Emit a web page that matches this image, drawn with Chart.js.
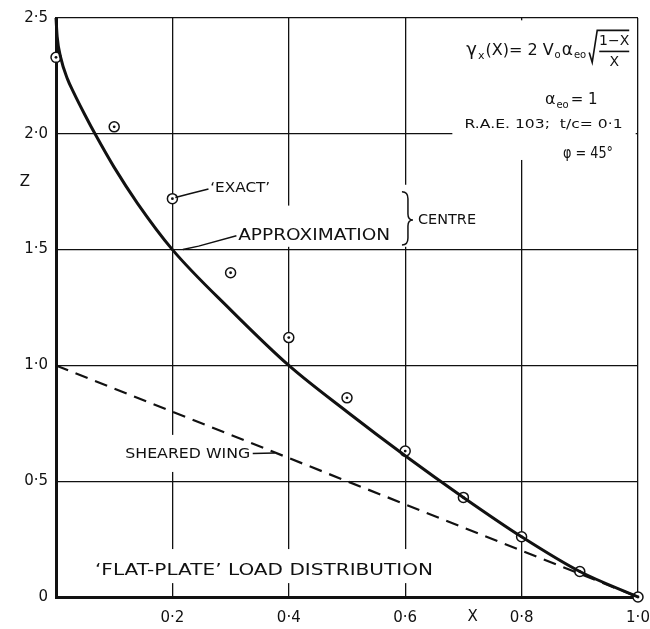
<!DOCTYPE html>
<html>
<head>
<meta charset="utf-8">
<script src="https://cdn.jsdelivr.net/npm/chart.js@4.4.1/dist/chart.umd.min.js"></script>
<style>
  html, body { margin: 0; padding: 0; background: #fff; }
  canvas { display: block; }
</style>
</head>
<body>
<canvas id="myChart" width="650" height="629"></canvas>
<script>
// approximation curve (solid)
const approxX = [0, 0.002, 0.008, 0.02, 0.03, 0.05, 0.067, 0.1, 0.14, 0.2, 0.3, 0.4, 0.5, 0.6, 0.7, 0.8, 0.9, 1.0];
const approxZ = [2.5, 2.42, 2.33, 2.235, 2.18, 2.08, 2.0, 1.855, 1.70, 1.5, 1.24, 1.0, 0.8, 0.61, 0.43, 0.26, 0.11, 0];
// 'exact' points (circles)
const exactX = [0, 0.1, 0.2, 0.3, 0.4, 0.5, 0.6, 0.7, 0.8, 0.9, 1.0];
const exactZ = [2.33, 2.03, 1.72, 1.40, 1.12, 0.86, 0.63, 0.43, 0.26, 0.11, 0];
// sheared wing (dashed)
const shearedX = [0, 1];
const shearedZ = [1, 0];

const xTicks = [0, 0.2, 0.4, 0.6, 0.8, 1.0];
const xTickLabels = ['', '0·2', '0·4', '0·6', '0·8', '1·0'];
const zTicks = [0, 0.5, 1.0, 1.5, 2.0, 2.5];
const zTickLabels = ['0', '0·5', '1·0', '1·5', '2·0', '2·5'];

const FONT = '"DejaVu Sans", sans-serif';

const pts = (xs, ys) => xs.map((x, i) => ({ x: x, y: ys[i] }));

// text drawn at a given left edge / middle, stretched to a width
function drawText(ctx, s, x, y, size, width) {
  ctx.font = size + 'px ' + FONT;
  const w = ctx.measureText(s).width;
  const k = width ? width / w : 1;
  ctx.save();
  ctx.translate(x, y);
  ctx.scale(k, 1);
  ctx.textBaseline = 'middle';
  ctx.textAlign = 'left';
  ctx.fillStyle = '#111';
  ctx.fillText(s, 0, 0);
  ctx.restore();
}

// labels, in data units (left edge, middle)
const notes = [
  { text: '‘EXACT’', x: 0.265, y: 1.766, size: 14, width: 60 },
  { text: 'APPROXIMATION', x: 0.313, y: 1.56, size: 15, width: 152 },
  { text: 'CENTRE', x: 0.622, y: 1.628, size: 14, width: 58 },
  { text: 'SHEARED WING', x: 0.119, y: 0.617, size: 14, width: 125 },
  { text: '‘FLAT-PLATE’ LOAD DISTRIBUTION', x: 0.067, y: 0.112, size: 15, width: 338 },
  { text: 'R.A.E. 103;  t/c= 0·1', x: 0.702, y: 2.04, size: 13, width: 158 },
  { text: 'φ = 45°', x: 0.871, y: 1.913, size: 15, width: 50 }
];

// white patches where the grid is broken by lettering
const gaps = [
  { x1: 0.681, x2: 0.996, y1: 2.49, y2: 1.887 },
  { x1: 0.31, x2: 0.59, y1: 1.69, y2: 1.512 },
  { x1: 0.59, x2: 0.73, y1: 1.78, y2: 1.512 },
  { x1: 0.11, x2: 0.34, y1: 0.70, y2: 0.54 },
  { x1: 0.06, x2: 0.66, y1: 0.207, y2: 0.06 }
];

// leader lines
const leaders = [
  [[0.205, 1.725], [0.228, 1.74], [0.262, 1.762]],
  [[0.218, 1.5], [0.245, 1.515], [0.31, 1.56]],
  [[0.338, 0.62], [0.376, 0.622]]
];

const notesPlugin = {
  id: 'notes',
  beforeDatasetsDraw(chart) {
    const { ctx, scales: { x, y } } = chart;
    ctx.save();
    ctx.fillStyle = '#fff';
    gaps.forEach(g => {
      const px1 = x.getPixelForValue(g.x1), px2 = x.getPixelForValue(g.x2);
      const py1 = y.getPixelForValue(g.y1), py2 = y.getPixelForValue(g.y2);
      ctx.fillRect(px1, py1, px2 - px1, py2 - py1);
    });
    ctx.restore();
  },
  afterDatasetsDraw(chart) {
    const { ctx, scales: { x, y } } = chart;
    // dots in the middle of the circles
    const meta = chart.getDatasetMeta(2);
    ctx.save();
    ctx.fillStyle = '#111';
    meta.data.forEach(p => {
      ctx.beginPath();
      ctx.arc(p.x, p.y, 1.4, 0, Math.PI * 2);
      ctx.fill();
    });

    notes.forEach(n => drawText(ctx, n.text, x.getPixelForValue(n.x), y.getPixelForValue(n.y), n.size, n.width));

    ctx.strokeStyle = '#111';
    ctx.lineWidth = 1.5;
    leaders.forEach(l => {
      ctx.beginPath();
      l.forEach((p, i) => {
        const px = x.getPixelForValue(p[0]), py = y.getPixelForValue(p[1]);
        if (i === 0) ctx.moveTo(px, py); else ctx.lineTo(px, py);
      });
      ctx.stroke();
    });

    // brace before CENTRE
    const bx = x.getPixelForValue(0.603);
    const bt = y.getPixelForValue(1.75), bb = y.getPixelForValue(1.52), bm = y.getPixelForValue(1.628);
    ctx.beginPath();
    ctx.moveTo(bx - 5, bt);
    ctx.quadraticCurveTo(bx + 1, bt, bx + 1, bt + 7);
    ctx.lineTo(bx + 1, bm - 6);
    ctx.quadraticCurveTo(bx + 1, bm, bx + 6, bm);
    ctx.quadraticCurveTo(bx + 1, bm, bx + 1, bm + 6);
    ctx.lineTo(bx + 1, bb - 7);
    ctx.quadraticCurveTo(bx + 1, bb, bx - 5, bb);
    ctx.stroke();

    // formula
    let fx = x.getPixelForValue(0.705);
    const fy = y.getPixelForValue(2.36);
    const parts = [
      ['γ', 18, 0], ['x', 11, 6], ['(X)= 2 V', 16, 0], ['o', 10, 5], ['α', 17, 0], ['eo', 10, 5]
    ];
    parts.forEach(p => {
      ctx.font = p[1] + 'px ' + FONT;
      ctx.textBaseline = 'middle';
      ctx.fillText(p[0], fx, fy + p[2]);
      fx += ctx.measureText(p[0]).width + 1;
    });
    fx += 2;
    ctx.lineWidth = 1.6;
    ctx.beginPath();
    ctx.moveTo(fx, fy + 2);
    ctx.lineTo(fx + 3, fy + 12);
    ctx.lineTo(fx + 8, fy - 20);
    ctx.lineTo(fx + 40, fy - 20);
    ctx.stroke();
    ctx.beginPath();
    ctx.moveTo(fx + 10, fy + 1);
    ctx.lineTo(fx + 40, fy + 1);
    ctx.stroke();
    ctx.font = '14px ' + FONT;
    ctx.textAlign = 'center';
    ctx.fillText('1−X', fx + 25, fy - 9);
    ctx.fillText('X', fx + 25, fy + 12);

    // αeo = 1
    ctx.textAlign = 'left';
    let ax = x.getPixelForValue(0.84);
    const ay = y.getPixelForValue(2.146);
    ctx.font = '16px ' + FONT;
    ctx.fillText('α', ax, ay);
    ax += ctx.measureText('α').width + 1;
    ctx.font = '10px ' + FONT;
    ctx.fillText('eo', ax, ay + 5);
    ax += ctx.measureText('eo').width + 2;
    ctx.font = '15px ' + FONT;
    ctx.fillText('= 1', ax, ay);

    // axis titles
    ctx.font = '15px ' + FONT;
    ctx.textAlign = 'center';
    ctx.fillText('Z', 25, y.getPixelForValue(1.79));
    ctx.fillText('X', x.getPixelForValue(0.716), 617);
    ctx.restore();
  }
};

const ctx = document.getElementById('myChart').getContext('2d');

const config = {
  type: 'line',
  data: {
    datasets: [
      {
        label: 'approximation',
        data: pts(approxX, approxZ),
        borderColor: '#111',
        borderWidth: 3,
        pointRadius: 0,
        cubicInterpolationMode: 'monotone',
        clip: false
      },
      {
        label: 'sheared wing',
        data: pts(shearedX, shearedZ),
        borderColor: '#111',
        borderWidth: 2.2,
        borderDash: [13, 8],
        pointRadius: 0,
        clip: false
      },
      {
        label: 'exact',
        data: pts(exactX, exactZ),
        showLine: false,
        pointRadius: 5,
        pointBorderWidth: 1.5,
        pointBorderColor: '#111',
        pointBackgroundColor: '#fff',
        clip: false
      }
    ]
  },
  options: {
    responsive: false,
    devicePixelRatio: 1,
    animation: false,
    layout: { padding: { top: 18, right: 0, left: 0, bottom: 0 } },
    plugins: { legend: { display: false }, tooltip: { enabled: false } },
    scales: {
      x: {
        type: 'linear',
        min: 0,
        max: 1,
        afterBuildTicks: s => { s.ticks = xTicks.map(v => ({ value: v })); },
        afterFit: s => { s.height = 32; s.paddingRight = 12; s.paddingLeft = 0; },
        ticks: {
          color: '#111',
          font: { family: FONT, size: 15 },
          padding: 12,
          maxRotation: 0,
          callback: (value) => xTickLabels[xTicks.indexOf(value)]
        },
        grid: { color: '#111', lineWidth: 1.3, drawTicks: false },
        border: { color: '#111', width: 3 }
      },
      y: {
        min: 0,
        max: 2.5,
        afterBuildTicks: s => { s.ticks = zTicks.map(v => ({ value: v })); },
        afterFit: s => { s.width = 56; },
        ticks: {
          color: '#111',
          font: { family: FONT, size: 15 },
          padding: 8,
          callback: (value) => zTickLabels[zTicks.indexOf(value)]
        },
        grid: { color: '#111', lineWidth: 1.3, drawTicks: false },
        border: { color: '#111', width: 3 }
      }
    }
  },
  plugins: [notesPlugin]
};

const myChart = new Chart(ctx, config);
</script>
</body>
</html>
